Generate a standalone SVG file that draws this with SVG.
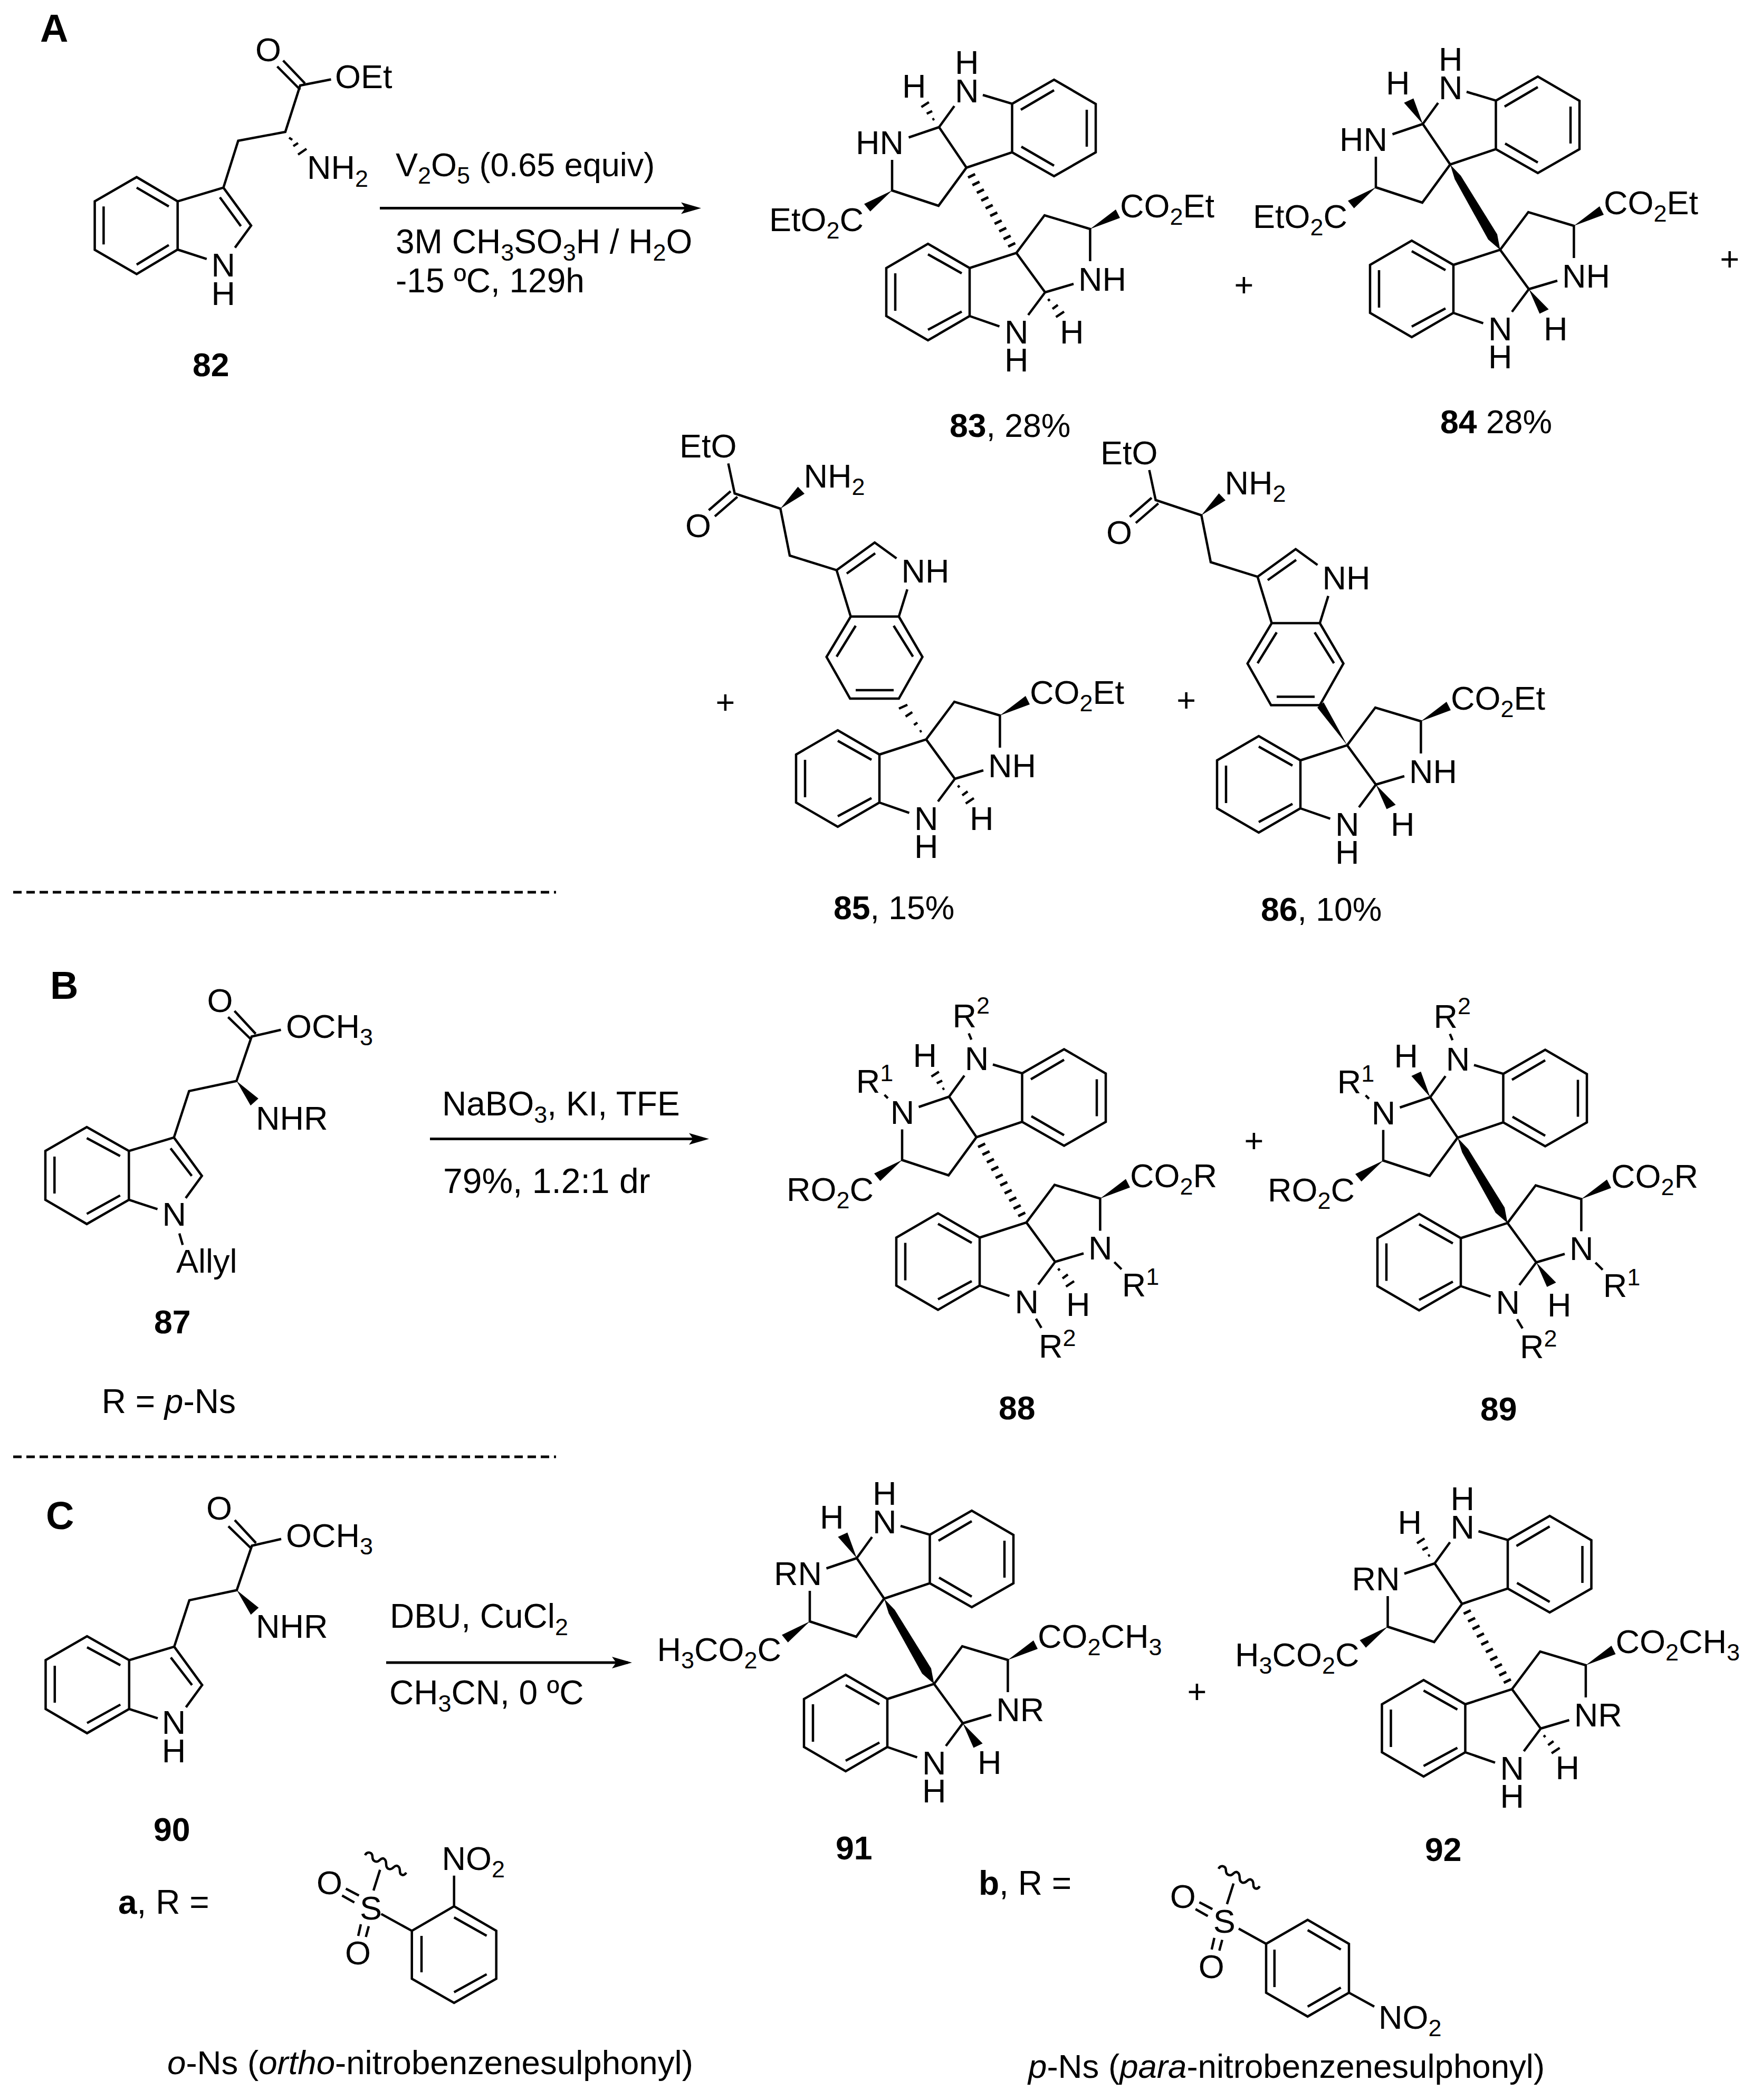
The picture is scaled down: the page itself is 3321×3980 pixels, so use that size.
<svg xmlns="http://www.w3.org/2000/svg" xmlns:xlink="http://www.w3.org/1999/xlink" width="3321" height="3980" viewBox="0 0 3321 3980">
<style>
text{font-family:"Liberation Sans",Arial,sans-serif;font-size:63px;fill:#000}
.r{font-size:64px}
.l{font-size:62.5px}
.b{font-weight:bold}
.i{font-style:italic}
.h{font-weight:bold;font-size:74px}
.s{font-size:45px}
.bd{fill:none;stroke:#000;stroke-width:4.5;stroke-linejoin:miter}
.hs{fill:none;stroke:#000;stroke-width:5}
.w{fill:#000;stroke:none}
.conn{fill:none;stroke:#000;stroke-width:5}
.dash{fill:none;stroke:#000;stroke-width:5;stroke-dasharray:16 9}
</style>
<defs>
<marker id="head" markerUnits="userSpaceOnUse" viewBox="0 -12 38 24" markerWidth="38" markerHeight="24" refX="30" refY="0" orient="auto"><path d="M0,-11L38,0L0,11L8,0Z" fill="#000"/></marker>
<g id="top"><path class="bd" d="M1918.5,196.7L1998,151L2077,197V288.6L1998,334L1918.5,288.6ZM1935,208L1998,171M2060,208V278M1936,278L1998,314M1863,180L1918.5,196.7M1918.5,288.6L1832,317.7L1780,241L1809,201M1722.5,260.5L1780,241M1691,303V361L1779,390L1832,317.7"/><polygon class="w" points="1691,361 1638,386.5 1649.6,400.8"/></g>
<g id="bottom"><path class="bd" d="M1838,508L1759,462L1680,508V599L1759,645L1838,599ZM1759,482L1823,518M1697,518V589M1759,625L1823,590.6M1838,508L1926.6,479.4L1981,554L1949,597M1981,554L2035,538M1838,599L1894.5,618.7M1926.6,479.4L1980,408L2066.4,434V495"/><polygon class="w" points="2066.4,434 2115,397 2123,413"/></g>
<path id="hashbig" class="hs" d="M1835,336.6L1848.4,330M1843.3,351L1856.7,344.4M1851.7,365.6L1865,359M1860,380.3L1873.4,373.7M1868.3,395L1881.7,388.4M1877,409.3L1890.4,402.7M1885.3,424.3L1898.7,417.7M1894,438.6L1907.4,432M1902.3,453.3L1915.7,446.7M1911,467.3L1924.4,460.7"/>
<polygon id="boldbig" class="w" points="1832,318 1852,339 1921,450 1926.6,479.4 1904,460 1840.5,345.5"/>
<path id="hashup" class="bd" d="M1767.5,227L1771,225M1756.7,215.6L1767,210.5M1746.5,202.9L1760.8,193.7"/>
<path id="hashlow" class="bd" d="M1986.5,570L1990,567M1995,585.5L2005.2,577.9M2001.6,600.8L2017,590.6"/>
<polygon id="wedgeup" class="w" points="1780,241 1744.4,200.7 1762.3,192.4"/>
<polygon id="wedgelow" class="w" points="1981,554 2001.4,600.5 2018.6,592.2"/>
<g id="ind"><path class="bd" d="M1343.5,967L1385,931M1355,978.6L1397.7,941.6M1380.5,878.4L1392.6,935.2L1479.3,964L1497,1053L1585.8,1080.6L1658,1028.3L1699.4,1058.3M1605,1087L1659,1048.7M1585.8,1080.6L1612.6,1168.6M1612.6,1168.6H1703.8L1748.5,1245L1703.8,1324H1611.4L1566.7,1245ZM1719.8,1117L1703.8,1168.6M1694,1186L1730.6,1244.5M1622,1308H1694M1585.8,1244.5L1622,1186"/><polygon class="w" points="1479.3,964 1512.5,922.4 1525,935.8"/></g>
<g id="trp"><path class="bd" d="M244.3,2273.9V2181.4L164.5,2136L86,2181.4V2273.9L164.5,2319.8ZM164.5,2157L227.7,2191M103.3,2192V2262M164.5,2300.6L227.7,2265.6M244.3,2181.4L329.7,2155.9L382.7,2228.6L352,2270.7M323.3,2176.3L363.5,2228.6M244.3,2273.9L298.5,2291.7M329.7,2155.9L358.4,2067.9L448.3,2048.7L477,1964.5L532.5,1951.8M432.4,1927.6L475,1969M444.5,1916L484.7,1959.4"/><polygon class="w" points="448.3,2048.7 489.8,2081.9 475,2095.3"/></g>
<path id="wig" class="bd" d="M692,3516c4,-8 14,-6 14,3s8,12 14,6s12,-2 12,8s8,12 14,6s12,-2 12,7s8,10 12,3"/>
<g id="sox"><path class="bd" d="M648.4,3592.5L671.7,3605.6M655.6,3579.4L680.4,3592.5M684,3647L679,3668.9M699,3650.7L693.5,3671M708,3583L720.4,3543.8"/><use href="#wig"/></g>
</defs>

<g id="connectors">
<line class="conn" x1="720" y1="394.4" x2="1321" y2="394.4" marker-end="url(#head)"/>
<line class="conn" x1="815" y1="2158.4" x2="1336" y2="2158.4" marker-end="url(#head)"/>
<line class="conn" x1="732" y1="3151" x2="1190" y2="3151" marker-end="url(#head)"/>
<line class="dash" x1="25" y1="1691" x2="1054" y2="1691"/>
<line class="dash" x1="25" y1="2761" x2="1054" y2="2761"/>
</g>

<g id="panel-letters"><text class="h" x="76" y="79">A</text><text class="h" x="95" y="1892.5">B</text><text class="h" x="87" y="2898">C</text></g>

<g id="m82">
<path class="bd" d="M336.7,473V381.6L259,335.7L179.6,381.6V473.5L259,519.4ZM259,355.6L320,391.3M196.4,391.3V463.3M259,501.5L320,464.3M336.7,381.6L423.5,355.6L476,427.6L445.4,469.4M416.8,374L456.6,428.6M336.7,473L391.8,490.8M423.5,355.6L451.5,266.8L540.8,250L569,162L627.5,150.5M525.5,126L569,170M536.7,114.8L578,158M548,261L554,265M556,277L565,271M565,293L581,282"/>
<text x="484" y="116.3">O</text><text x="635" y="166.8">OEt</text><text x="582" y="339.3">NH<tspan class="s" dy="15">2</tspan></text><text x="400.6" y="524">N</text><text x="400.6" y="577.5">H</text>
<text class="l b" x="365" y="712.8">82</text>
</g>
<g id="cond-a">
<text class="r" x="750" y="334" style="font-size:63px">V<tspan class="s" dy="14">2</tspan><tspan dy="-14">O</tspan><tspan class="s" dy="14">5</tspan><tspan dy="-14"> (0.65 equiv)</tspan></text>
<text class="r" x="750" y="479.6">3M CH<tspan class="s" dy="14">3</tspan><tspan dy="-14">SO</tspan><tspan class="s" dy="14">3</tspan><tspan dy="-14">H / H</tspan><tspan class="s" dy="14">2</tspan><tspan dy="-14">O</tspan></text>
<text class="r" x="750" y="553.6">-15 ºC, 129h</text>
</g>

<g id="m83"><use href="#top"/><use href="#bottom"/><use href="#hashbig"/><use href="#hashup"/><use href="#hashlow"/>
<text x="1810" y="140">H</text><text x="1810" y="193.7">N</text><text x="1710" y="185">H</text><text x="1622" y="292">HN</text><text x="1458" y="437.5">EtO<tspan class="s" dy="14">2</tspan><tspan dy="-14">C</tspan></text><text x="2123" y="412">CO<tspan class="s" dy="14">2</tspan><tspan dy="-14">Et</tspan></text><text x="2044" y="551">NH</text><text x="1904" y="651">N</text><text x="1904" y="704">H</text><text x="2009" y="651">H</text>
<text class="l" x="1800" y="827.9"><tspan class="b">83</tspan>, 28%</text></g>

<g id="m84" transform="translate(917,-6)"><use href="#top"/><use href="#bottom"/><use href="#boldbig"/><use href="#wedgeup"/><use href="#wedgelow"/>
<text x="1810" y="140">H</text><text x="1810" y="193.7">N</text><text x="1710" y="185">H</text><text x="1622" y="292">HN</text><text x="1458" y="437.5">EtO<tspan class="s" dy="14">2</tspan><tspan dy="-14">C</tspan></text><text x="2123" y="412">CO<tspan class="s" dy="14">2</tspan><tspan dy="-14">Et</tspan></text><text x="2044" y="551">NH</text><text x="1904" y="651">N</text><text x="1904" y="704">H</text><text x="2009" y="651">H</text>
<text class="l" x="1813" y="827"><tspan class="b">84</tspan> 28%</text></g>

<g id="m85"><use href="#ind"/><g transform="translate(-171,922)"><use href="#bottom"/><use href="#hashlow"/>
<text x="2123" y="412">CO<tspan class="s" dy="14">2</tspan><tspan dy="-14">Et</tspan></text><text x="2044" y="551">NH</text><text x="1904" y="651">N</text><text x="1904" y="704">H</text><text x="2009" y="651">H</text></g>
<path class="bd" d="M1704,1343L1720,1335.7M1716.6,1358L1729.3,1349.7M1732.5,1374L1739,1369.5M1743.4,1386.7L1747,1385"/>
<text x="1288" y="867">EtO</text><text x="1299" y="1018">O</text><text x="1523.4" y="924.4">NH<tspan class="s" dy="14">2</tspan></text><text x="1708.4" y="1104">NH</text>
<text class="l" x="1580" y="1742"><tspan class="b">85</tspan>, 15%</text></g>

<g id="m86"><g transform="translate(798,12.5)"><use href="#ind"/><text x="1288" y="867">EtO</text><text x="1299" y="1018">O</text><text x="1523.4" y="924.4">NH<tspan class="s" dy="14">2</tspan></text><text x="1708.4" y="1104">NH</text></g>
<g transform="translate(627,933)"><use href="#bottom"/><use href="#wedgelow"/>
<text x="2123" y="412">CO<tspan class="s" dy="14">2</tspan><tspan dy="-14">Et</tspan></text><text x="2044" y="551">NH</text><text x="1904" y="651">N</text><text x="1904" y="704">H</text><text x="2009" y="651">H</text></g>
<polygon class="w" points="2553.8,1412.5 2497,1341 2509,1331"/>
<text class="l" x="2390" y="1745"><tspan class="b">86</tspan>, 10%</text></g>

<g id="m87"><use href="#trp"/><path class="bd" d="M340,2337.6L346.3,2359.3"/>
<text x="542" y="1967">OCH<tspan class="s" dy="14">3</tspan></text><text x="392.5" y="1918">O</text><text x="485" y="2141">NHR</text><text x="307.5" y="2323">N</text><text x="334" y="2412">Allyl</text>
<text class="l b" x="292" y="2527">87</text><text class="r" x="192.7" y="2678">R = <tspan class="i">p</tspan>-Ns</text></g>
<g id="cond-b"><text class="r" x="838" y="2113.8">NaBO<tspan class="s" dy="14">3</tspan><tspan dy="-14">, KI, TFE</tspan></text><text class="r" x="840" y="2260.5" style="font-size:66px">79%, 1.2:1 dr</text></g>

<g id="m88" transform="translate(19,1837.5)"><use href="#top"/><use href="#bottom"/><use href="#hashbig"/><use href="#hashup"/><use href="#hashlow"/>
<path class="bd" d="M1817.4,121L1822.3,132.8M1657.6,237.5L1664,243.9M2093.3,554.5L2106.9,568M1944.8,661.8L1955,679.2"/>
<text x="1786.4" y="109">R<tspan class="s" dy="-26">2</tspan></text><text x="1809.7" y="190.3">N</text><text x="1711.6" y="184.9">H</text><text x="1603.8" y="233.5">R<tspan class="s" dy="-22">1</tspan></text><text x="1668.8" y="292.5">N</text><text x="1472" y="438">RO<tspan class="s" dy="14">2</tspan><tspan dy="-14">C</tspan></text><text x="2123" y="412">CO<tspan class="s" dy="14">2</tspan><tspan dy="-14">R</tspan></text><text x="2044" y="549">N</text><text x="2107.8" y="619.5">R<tspan class="s" dy="-22">1</tspan></text><text x="1904.6" y="651">N</text><text x="2002" y="656">H</text><text x="1950" y="735">R<tspan class="s" dy="-22">2</tspan></text>
<text class="l b" x="1874" y="852.5">88</text></g>

<g id="m89" transform="translate(931,1838.5)"><use href="#top"/><use href="#bottom"/><use href="#boldbig"/><use href="#wedgeup"/><use href="#wedgelow"/>
<path class="bd" d="M1817.4,121L1822.3,132.8M1657.6,237.5L1664,243.9M2093.3,554.5L2106.9,568M1944.8,661.8L1955,679.2"/>
<text x="1786.4" y="109">R<tspan class="s" dy="-26">2</tspan></text><text x="1809.7" y="190.3">N</text><text x="1711.6" y="184.9">H</text><text x="1603.8" y="233.5">R<tspan class="s" dy="-22">1</tspan></text><text x="1668.8" y="292.5">N</text><text x="1472" y="438">RO<tspan class="s" dy="14">2</tspan><tspan dy="-14">C</tspan></text><text x="2123" y="412">CO<tspan class="s" dy="14">2</tspan><tspan dy="-14">R</tspan></text><text x="2044" y="549">N</text><text x="2107.8" y="619.5">R<tspan class="s" dy="-22">1</tspan></text><text x="1904.6" y="651">N</text><text x="2002" y="656">H</text><text x="1950" y="735">R<tspan class="s" dy="-22">2</tspan></text>
<text class="l b" x="1875" y="853.5">89</text></g>

<g id="m90"><g transform="translate(0.5,965)"><use href="#trp"/></g>
<text x="542" y="2932">OCH<tspan class="s" dy="14">3</tspan></text><text x="391" y="2880">O</text><text x="485" y="3104">NHR</text><text x="306.7" y="3285.7">N</text><text x="306.7" y="3340">H</text>
<text class="l b" x="291" y="3488.5">90</text></g>
<g id="cond-c"><text class="r" x="739" y="3085">DBU, CuCl<tspan class="s" dy="14">2</tspan></text><text class="r" x="738" y="3230.4">CH<tspan class="s" dy="14">3</tspan><tspan dy="-14">CN, 0 ºC</tspan></text></g>

<g id="m91" transform="translate(-156,2712)"><use href="#top"/><use href="#bottom"/><use href="#boldbig"/><use href="#wedgeup"/><use href="#wedgelow"/>
<text x="1810" y="140">H</text><text x="1810" y="193.7">N</text><text x="1710" y="185">H</text><text x="1623" y="292">RN</text><text x="1401.4" y="436">H<tspan class="s" dy="14">3</tspan><tspan dy="-14">CO</tspan><tspan class="s" dy="14">2</tspan><tspan dy="-14">C</tspan></text><text x="2123" y="411">CO<tspan class="s" dy="14">2</tspan><tspan dy="-14">CH</tspan><tspan class="s" dy="14">3</tspan></text><text x="2044.3" y="549.5">NR</text><text x="1904" y="651">N</text><text x="1904" y="704">H</text><text x="2009" y="650">H</text>
<text class="l b" x="1740" y="812">91</text></g>

<g id="m92" transform="translate(939.5,2722)"><use href="#top"/><use href="#bottom"/><use href="#hashbig"/><use href="#hashup"/><use href="#hashlow"/>
<text x="1810" y="140">H</text><text x="1810" y="193.7">N</text><text x="1710" y="185">H</text><text x="1623" y="292">RN</text><text x="1401.4" y="436">H<tspan class="s" dy="14">3</tspan><tspan dy="-14">CO</tspan><tspan class="s" dy="14">2</tspan><tspan dy="-14">C</tspan></text><text x="2123" y="411">CO<tspan class="s" dy="14">2</tspan><tspan dy="-14">CH</tspan><tspan class="s" dy="14">3</tspan></text><text x="2044.3" y="549.5">NR</text><text x="1904" y="651">N</text><text x="1904" y="704">H</text><text x="2009" y="650">H</text>
<text class="l b" x="1761.5" y="805">92</text></g>

<g id="plus-signs"><text x="2358" y="562" text-anchor="middle">+</text><text x="3278.6" y="513" text-anchor="middle">+</text><text x="1375" y="1353" text-anchor="middle">+</text><text x="2248.6" y="1349" text-anchor="middle">+</text><text x="2377" y="2184" text-anchor="middle">+</text><text x="2269" y="3227.5" text-anchor="middle">+</text></g>

<g id="ons"><use href="#sox"/><path class="bd" d="M722.5,3627.4L780.7,3659.4M780.7,3659.4L860.7,3612.9L940.7,3659.4V3750.3L860.7,3796L780.7,3750.3ZM860.7,3634L922.5,3668.8M799,3668.9V3738M860.7,3775.7L922.5,3741.6M860.7,3612.9V3554.7"/>
<text x="600" y="3590">O</text><text x="654" y="3723.4">O</text><text x="682" y="3637.6">S</text><text x="837.5" y="3543.8">NO<tspan class="s" dy="14">2</tspan></text>
<text class="r" x="224" y="3627.4"><tspan class="b">a</tspan>, R =</text>
<text class="r" x="317" y="3930.6" style="font-size:63.6px"><tspan class="i">o</tspan>-Ns (<tspan class="i">ortho</tspan>-nitrobenzenesulphonyl)</text></g>

<g id="pns"><g transform="translate(1617.8,25.8)"><use href="#sox"/><text x="600" y="3590">O</text><text x="654" y="3723.4">O</text><text x="682" y="3637.6">S</text></g>
<path class="bd" d="M2348,3655.3L2400,3684M2400,3684L2478.7,3638.6L2557,3684V3776.6L2478.7,3821.8L2400,3776.6ZM2478.7,3658L2541.6,3694.9M2415.8,3694.9V3766M2478.7,3803L2541.6,3767M2557,3776.6L2605,3803"/>
<text x="2613" y="3845">NO<tspan class="s" dy="14">2</tspan></text>
<text class="r" x="1855" y="3591"><tspan class="b">b</tspan>, R =</text>
<text class="r" x="1949" y="3938" style="font-size:63.6px"><tspan class="i">p</tspan>-Ns (<tspan class="i">para</tspan>-nitrobenzenesulphonyl)</text></g>
</svg>
